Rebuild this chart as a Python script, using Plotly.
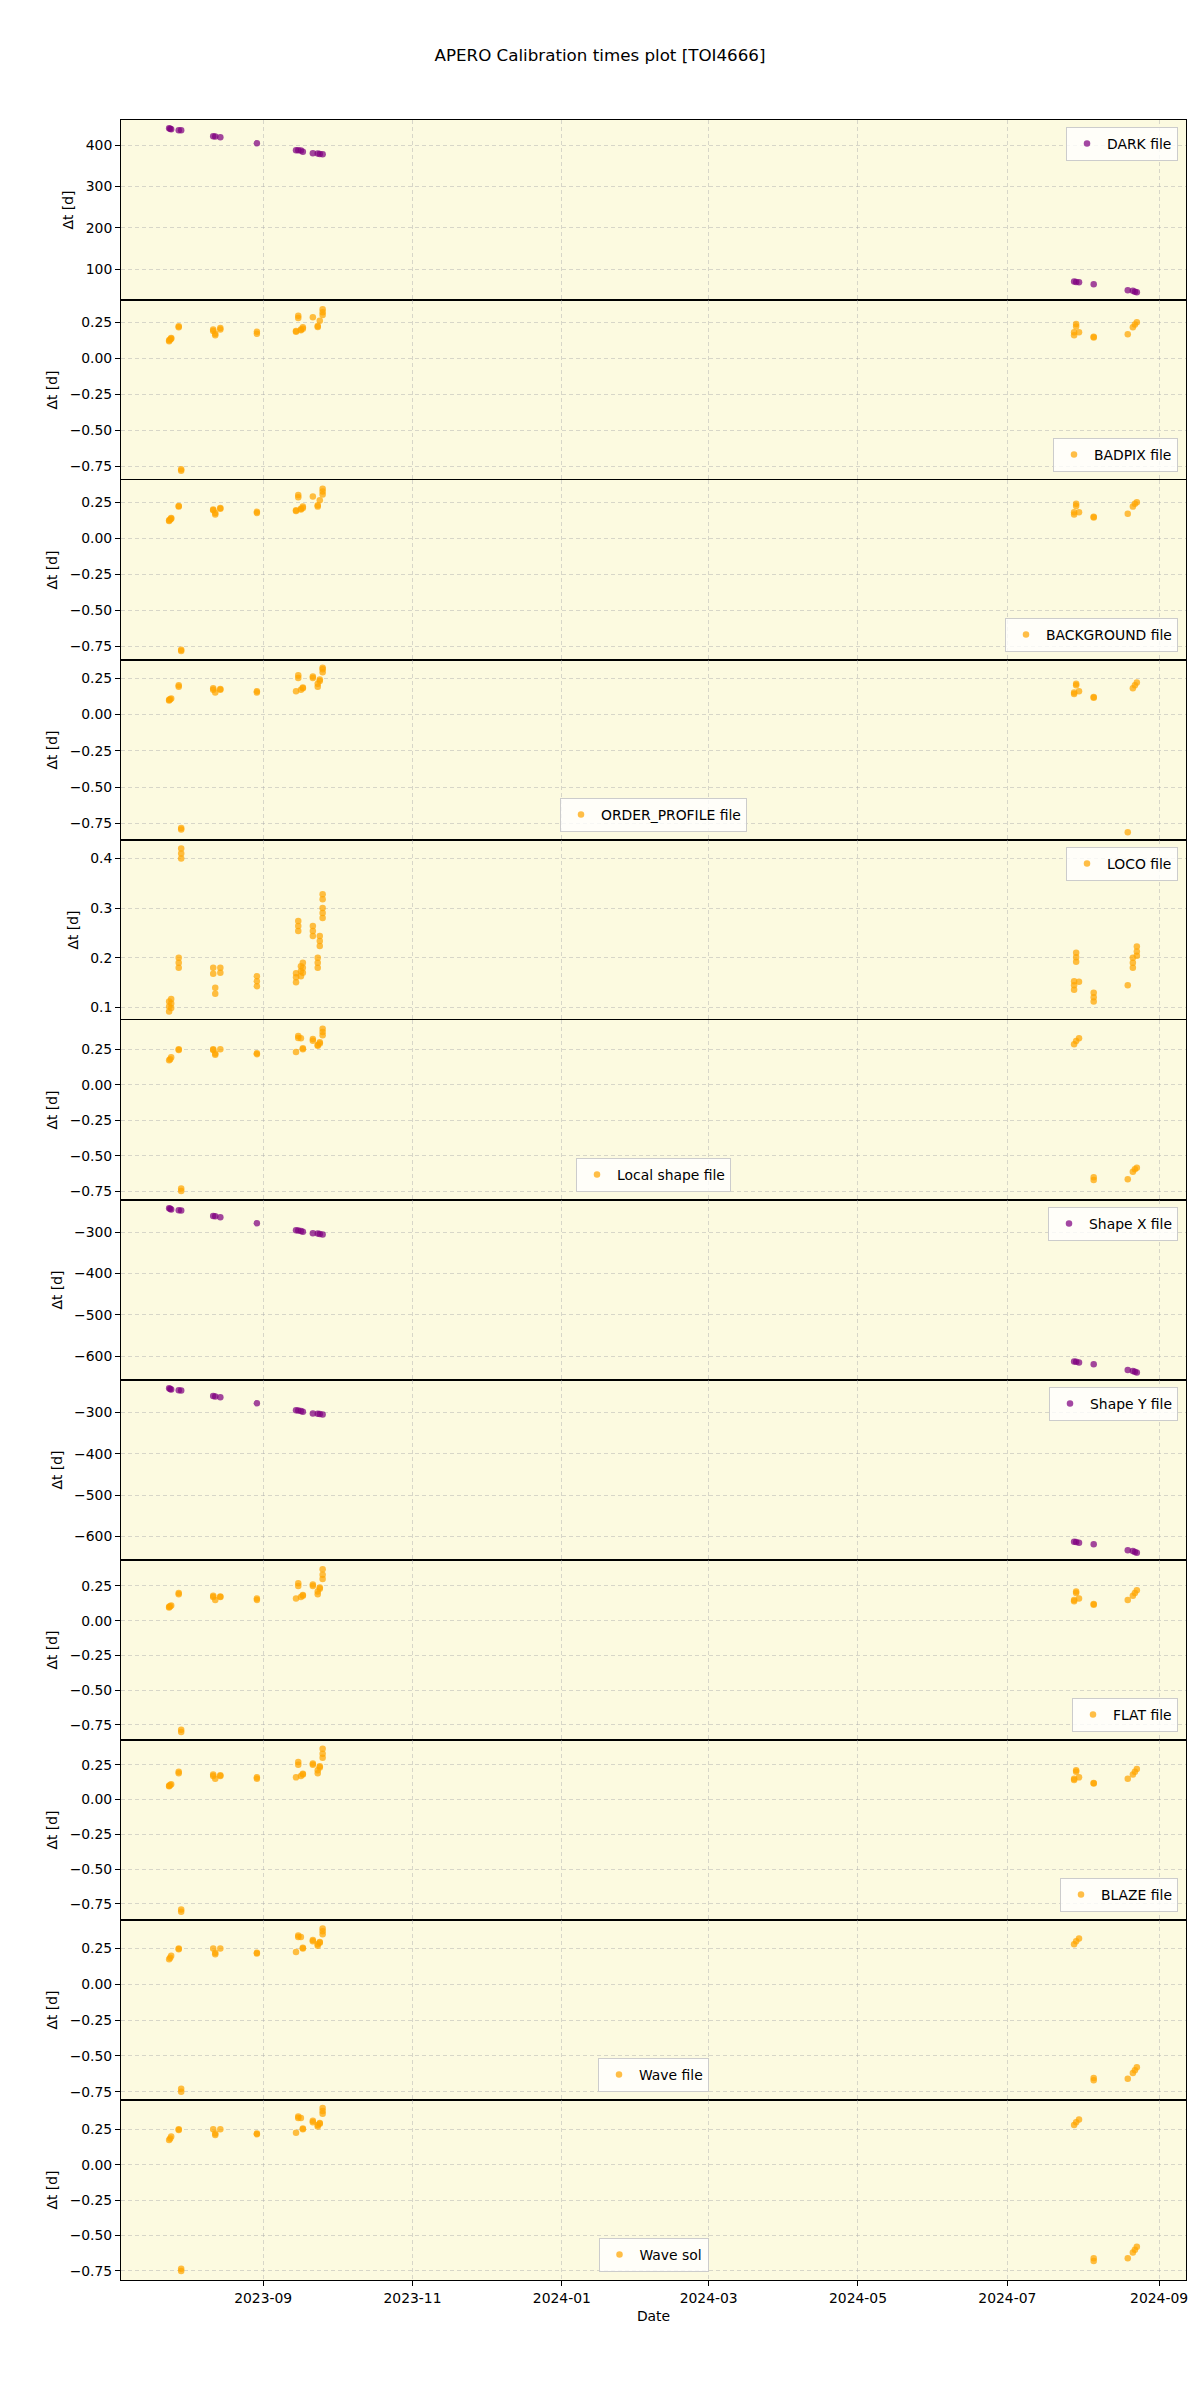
import plotly.graph_objects as go
from plotly.subplots import make_subplots

# ---- observation epochs (calibration-matched science frames) ----
A1 = "2023-07-24 14:00"; A2 = "2023-07-25 00:00"; A3 = "2023-07-25 10:00"
B = "2023-07-28 12:00"; C = "2023-07-29 12:00"
D1 = "2023-08-11 14:00"; D2 = "2023-08-12 10:00"; D3 = "2023-08-14 12:00"
E = "2023-08-29 10:00"
F1 = "2023-09-14 10:00"; F2 = "2023-09-15 08:00"; F3 = "2023-09-16 10:00"; F4 = "2023-09-17 05:00"
G1 = "2023-09-21 07:00"; G2 = "2023-09-23 07:00"; G3 = "2023-09-24 03:00"; G4 = "2023-09-25 07:00"
H1 = "2024-07-28 07:00"; H2 = "2024-07-29 03:00"; H3 = "2024-07-30 07:00"
I = "2024-08-05 07:00"; J = "2024-08-19 05:00"
K1 = "2024-08-21 07:00"; K2 = "2024-08-22 03:00"; K3 = "2024-08-22 22:00"

dark = [(A1, 440.4), (A2, 439.2), (A3, 438.0), (B, 435.6), (C, 435.4), (D1, 421.0), (D2, 420.6),
        (D3, 418.6), (E, 404.0), (F1, 387.6), (F2, 387.2), (F3, 386.8), (F4, 383.8), (G1, 380.0),
        (G2, 379.6), (G3, 378.0), (G4, 377.5), (H1, 69.5), (H2, 68.8), (H3, 68.2), (I, 63.0),
        (J, 48.4), (K1, 47.4), (K2, 45.2), (K3, 43.6)]

badpix = [(A1, 0.125), (A1, 0.118), (A2, 0.13), (A3, 0.14), (A3, 0.135), (B, 0.215), (B, 0.222),
          (C, -0.783), (C, -0.772), (D1, 0.20), (D1, 0.19), (D2, 0.16), (D2, 0.17), (D3, 0.20),
          (D3, 0.21), (E, 0.17), (E, 0.185), (F1, 0.19), (F1, 0.185), (F2, 0.296), (F2, 0.28),
          (F3, 0.195), (F3, 0.20), (F4, 0.205), (F4, 0.215), (G1, 0.285), (G2, 0.217), (G2, 0.225),
          (G3, 0.26), (G4, 0.34), (G4, 0.32), (G4, 0.30), (H1, 0.16), (H1, 0.18), (H2, 0.238),
          (H2, 0.22), (H3, 0.18), (I, 0.15), (I, 0.145), (J, 0.167), (K1, 0.215), (K2, 0.235), (K3, 0.25)]

background = [(A1, 0.125), (A1, 0.12), (A2, 0.13), (A3, 0.14), (A3, 0.135), (B, 0.22), (B, 0.225),
              (C, -0.785), (C, -0.775), (D1, 0.20), (D1, 0.195), (D2, 0.165), (D2, 0.175), (D3, 0.205),
              (D3, 0.21), (E, 0.175), (E, 0.185), (F1, 0.19), (F1, 0.195), (F2, 0.30), (F2, 0.285),
              (F3, 0.20), (F3, 0.205), (F4, 0.21), (F4, 0.22), (G1, 0.29), (G2, 0.22), (G2, 0.23),
              (G3, 0.265), (G4, 0.345), (G4, 0.325), (G4, 0.305), (H1, 0.165), (H1, 0.18), (H2, 0.24),
              (H2, 0.225), (H3, 0.18), (I, 0.15), (I, 0.145), (J, 0.17), (K1, 0.22), (K2, 0.24), (K3, 0.25)]

order_profile = [(A1, 0.10), (A1, 0.095), (A2, 0.105), (A3, 0.11), (B, 0.19), (B, 0.20), (C, -0.79),
                 (C, -0.78), (D1, 0.17), (D1, 0.18), (D2, 0.15), (D3, 0.17), (D3, 0.175), (E, 0.15),
                 (E, 0.16), (F1, 0.16), (F2, 0.27), (F2, 0.25), (F3, 0.17), (F4, 0.18), (F4, 0.185),
                 (G1, 0.26), (G1, 0.25), (G2, 0.19), (G2, 0.21), (G3, 0.23), (G3, 0.24), (G4, 0.29),
                 (G4, 0.31), (G4, 0.32), (H1, 0.14), (H1, 0.15), (H2, 0.20), (H2, 0.21), (H3, 0.16),
                 (I, 0.12), (I, 0.115), (J, -0.81), (K1, 0.18), (K2, 0.20), (K3, 0.22)]

loco = [(A1, 0.092), (A1, 0.102), (A1, 0.112), (A3, 0.099), (A3, 0.108), (A3, 0.117),
        (B, 0.18), (B, 0.19), (B, 0.20), (C, 0.40), (C, 0.41), (C, 0.42),
        (D1, 0.168), (D1, 0.18), (D2, 0.128), (D2, 0.14), (D3, 0.17), (D3, 0.18),
        (E, 0.143), (E, 0.153), (E, 0.163),
        (F1, 0.151), (F1, 0.161), (F1, 0.169), (F2, 0.254), (F2, 0.264), (F2, 0.274),
        (F3, 0.163), (F3, 0.173), (F3, 0.183), (F4, 0.17), (F4, 0.18), (F4, 0.19),
        (G1, 0.244), (G1, 0.254), (G1, 0.264), (G2, 0.18), (G2, 0.19), (G2, 0.20),
        (G3, 0.224), (G3, 0.234), (G3, 0.244), (G4, 0.28), (G4, 0.29), (G4, 0.30), (G4, 0.318), (G4, 0.328),
        (H1, 0.136), (H1, 0.145), (H1, 0.153), (H2, 0.192), (H2, 0.201), (H2, 0.21), (H3, 0.152),
        (I, 0.112), (I, 0.121), (I, 0.13), (J, 0.145),
        (K1, 0.18), (K1, 0.19), (K1, 0.20), (K3, 0.204), (K3, 0.213), (K3, 0.223)]

local_shape = [(A1, 0.172), (A2, 0.18), (A3, 0.194), (B, 0.25), (B, 0.245), (C, -0.748), (C, -0.73),
               (D1, 0.25), (D1, 0.245), (D2, 0.212), (D2, 0.22), (D3, 0.25), (E, 0.222), (E, 0.215),
               (F1, 0.231), (F2, 0.344), (F2, 0.33), (F3, 0.327), (F4, 0.257), (F4, 0.25),
               (G1, 0.322), (G1, 0.31), (G2, 0.275), (G2, 0.28), (G3, 0.30), (G3, 0.29),
               (G4, 0.395), (G4, 0.372), (G4, 0.349), (H1, 0.285), (H2, 0.308), (H3, 0.327),
               (I, -0.651), (I, -0.67), (J, -0.665), (K1, -0.612), (K2, -0.595), (K3, -0.584)]

shape_x = [(A1, -241.7), (A2, -243.0), (A3, -244.5), (B, -246.6), (C, -246.8), (D1, -260.4), (D2, -261.0),
           (D3, -263.6), (E, -278.0), (F1, -295.0), (F2, -295.5), (F3, -296.5), (F4, -298.5),
           (G1, -302.4), (G2, -303.0), (G3, -304.0), (G4, -305.0), (H1, -613.0), (H2, -614.0),
           (H3, -615.6), (I, -619.7), (J, -634.0), (K1, -636.0), (K2, -638.0), (K3, -640.0)]

shape_y = [(A1, -241.0), (A2, -242.5), (A3, -244.0), (B, -246.0), (C, -246.5), (D1, -260.0), (D2, -260.8),
           (D3, -263.0), (E, -277.5), (F1, -294.5), (F2, -295.0), (F3, -296.0), (F4, -298.0),
           (G1, -302.0), (G2, -302.5), (G3, -303.5), (G4, -304.5), (H1, -612.5), (H2, -613.5),
           (H3, -615.0), (I, -619.0), (J, -633.5), (K1, -635.5), (K2, -637.5), (K3, -639.5)]

flat = [(A1, 0.10), (A1, 0.095), (A2, 0.105), (A3, 0.11), (B, 0.19), (B, 0.20), (C, -0.80),
        (C, -0.785), (D1, 0.17), (D1, 0.18), (D2, 0.15), (D3, 0.17), (D3, 0.175), (E, 0.15),
        (E, 0.16), (F1, 0.16), (F2, 0.27), (F2, 0.25), (F3, 0.17), (F4, 0.18), (F4, 0.185),
        (G1, 0.26), (G1, 0.25), (G2, 0.19), (G2, 0.21), (G3, 0.23), (G3, 0.24), (G4, 0.30),
        (G4, 0.33), (G4, 0.37), (H1, 0.14), (H1, 0.15), (H2, 0.20), (H2, 0.21), (H3, 0.16),
        (I, 0.12), (I, 0.115), (J, 0.15), (K1, 0.18), (K2, 0.20), (K3, 0.22)]

blaze = [(A1, 0.10), (A1, 0.095), (A2, 0.105), (A3, 0.11), (B, 0.19), (B, 0.20), (C, -0.805),
         (C, -0.79), (D1, 0.17), (D1, 0.18), (D2, 0.15), (D3, 0.17), (D3, 0.175), (E, 0.15),
         (E, 0.16), (F1, 0.16), (F2, 0.27), (F2, 0.25), (F3, 0.17), (F4, 0.18), (F4, 0.185),
         (G1, 0.26), (G1, 0.25), (G2, 0.19), (G2, 0.21), (G3, 0.23), (G3, 0.24), (G4, 0.30),
         (G4, 0.33), (G4, 0.365), (H1, 0.14), (H1, 0.15), (H2, 0.20), (H2, 0.21), (H3, 0.16),
         (I, 0.12), (I, 0.115), (J, 0.15), (K1, 0.18), (K2, 0.20), (K3, 0.22)]

wave_file = [(A1, 0.175), (A2, 0.185), (A3, 0.20), (B, 0.25), (B, 0.245), (C, -0.75), (C, -0.73),
             (D1, 0.25), (D2, 0.21), (D2, 0.22), (D3, 0.25), (E, 0.22), (E, 0.215),
             (F1, 0.226), (F2, 0.34), (F2, 0.33), (F3, 0.33), (F4, 0.25), (F4, 0.255),
             (G1, 0.31), (G1, 0.30), (G2, 0.27), (G2, 0.28), (G3, 0.295), (G3, 0.29),
             (G4, 0.39), (G4, 0.37), (G4, 0.35), (H1, 0.28), (H2, 0.30), (H3, 0.32),
             (I, -0.655), (I, -0.67), (J, -0.66), (K1, -0.62), (K2, -0.60), (K3, -0.58)]

wave_sol = [(A1, 0.175), (A2, 0.185), (A3, 0.20), (B, 0.25), (B, 0.245), (C, -0.75), (C, -0.735),
            (D1, 0.25), (D2, 0.21), (D2, 0.22), (D3, 0.25), (E, 0.22), (E, 0.215),
            (F1, 0.226), (F2, 0.34), (F2, 0.33), (F3, 0.33), (F4, 0.25), (F4, 0.255),
            (G1, 0.31), (G1, 0.30), (G2, 0.27), (G2, 0.28), (G3, 0.295), (G3, 0.29),
            (G4, 0.40), (G4, 0.38), (G4, 0.36), (H1, 0.28), (H2, 0.30), (H3, 0.32),
            (I, -0.66), (I, -0.68), (J, -0.66), (K1, -0.62), (K2, -0.60), (K3, -0.58)]

panel_names = ["DARK file", "BADPIX file", "BACKGROUND file", "ORDER_PROFILE file", "LOCO file",
               "Local shape file", "Shape X file", "Shape Y file", "FLAT file", "BLAZE file",
               "Wave file", "Wave sol"]
panel_data = [dark, badpix, background, order_profile, loco, local_shape, shape_x, shape_y,
              flat, blaze, wave_file, wave_sol]
panel_colors = ["purple", "orange", "orange", "orange", "orange", "orange", "purple", "purple",
                "orange", "orange", "orange", "orange"]
panel_legend_loc = ["upper right", "lower right", "lower right", "lower center", "upper right",
                    "lower center", "upper right", "upper right", "lower right", "lower right",
                    "lower center", "lower center"]
panel_yrange = [[25, 460.5], [-0.847, 0.405], [-0.847, 0.405], [-0.863, 0.374], [0.075, 0.437],
                [-0.811, 0.456], [-658, -221.6], [-657, -221], [-0.858, 0.437], [-0.865, 0.428],
                [-0.808, 0.449], [-0.814, 0.457]]
panel_dtick = [100, 0.25, 0.25, 0.25, 0.1, 0.25, 100, 100, 0.25, 0.25, 0.25, 0.25]
panel_tickfmt = ["d", ".2f", ".2f", ".2f", ".1f", ".2f", "d", "d", ".2f", ".2f", ".2f", ".2f"]

x_tickvals = ["2023-09-01", "2023-11-01", "2024-01-01", "2024-03-01", "2024-05-01", "2024-07-01", "2024-09-01"]
x_ticktext = ["2023-09", "2023-11", "2024-01", "2024-03", "2024-05", "2024-07", "2024-09"]
x_range = ["2023-07-04 22:00", "2024-09-12 00:00"]

FONT = "DejaVu Sans"
FS = 13.9
W, H = 1200, 2400
ML, MR, MT, MB = 121, 12, 120, 120
PW, PH = W - ML - MR, H - MT - MB
N = len(panel_names)

fig = make_subplots(rows=N, cols=1, shared_xaxes=True, vertical_spacing=0)

grid_col = "rgba(170,170,170,0.45)"
legends = {}
for i in range(N):
    name = "legend" if i == 0 else f"legend{i+1}"
    pts = panel_data[i]
    fig.add_trace(go.Scatter(
        x=[p[0] for p in pts], y=[p[1] for p in pts], mode="markers", name=panel_names[i],
        marker=dict(color=panel_colors[i], size=6.5, opacity=0.72, line=dict(width=0)),
        legend=name, showlegend=True), row=i + 1, col=1)

    top = 1 - i / N
    bot = 1 - (i + 1) / N
    loc = panel_legend_loc[i]
    if loc == "upper right":
        lx, lxa, ly, lya = 1 - 8 / PW, "right", top - 7 / PH, "top"
    elif loc == "lower right":
        lx, lxa, ly, lya = 1 - 8 / PW, "right", bot + 8 / PH, "bottom"
    else:
        lx, lxa, ly, lya = 0.5, "center", bot + 8 / PH, "bottom"
    legends[name] = dict(x=lx, y=ly, xanchor=lxa, yanchor=lya, xref="paper", yref="paper",
                         bgcolor="rgba(255,255,255,0.8)", bordercolor="#cccccc", borderwidth=1,
                         font=dict(family=FONT, size=FS, color="black"), itemsizing="trace",
                         tracegroupgap=0)

    fig.update_yaxes(row=i + 1, col=1, range=panel_yrange[i], dtick=panel_dtick[i], tick0=0,
                     tickformat=panel_tickfmt[i], showline=True, linecolor="black", linewidth=1,
                     mirror=True, ticks="outside", ticklen=5, tickcolor="black", showgrid=True,
                     gridcolor=grid_col, griddash="4px,3px", gridwidth=1, zeroline=False,
                     title=dict(text="Δt [d]", font=dict(family=FONT, size=FS, color="black"), standoff=8),
                     tickfont=dict(family=FONT, size=FS, color="black"))
    fig.update_xaxes(row=i + 1, col=1, range=x_range, type="date", tickvals=x_tickvals,
                     ticktext=x_ticktext, showline=True, linecolor="black", linewidth=1, mirror=True,
                     showgrid=True, gridcolor=grid_col, griddash="4px,3px", gridwidth=1, zeroline=False,
                     showticklabels=(i == N - 1), ticks="outside" if i == N - 1 else "",
                     ticklen=5, tickcolor="black", tickfont=dict(family=FONT, size=FS, color="black"))

fig.update_xaxes(row=N, col=1, title=dict(text="Date", font=dict(family=FONT, size=FS, color="black"), standoff=6))

fig.update_layout(
    width=W, height=H, margin=dict(l=ML, r=MR, t=MT, b=MB),
    paper_bgcolor="white", plot_bgcolor="#FCFAE0",
    font=dict(family=FONT, size=FS, color="black"),
    title=dict(text="APERO Calibration times plot [TOI4666]", x=0.5, xanchor="center",
               y=1 - 55 / H, yref="container", yanchor="middle",
               font=dict(family=FONT, size=16.7, color="black")),
    **legends,
)

fig.write_html("out.html")
